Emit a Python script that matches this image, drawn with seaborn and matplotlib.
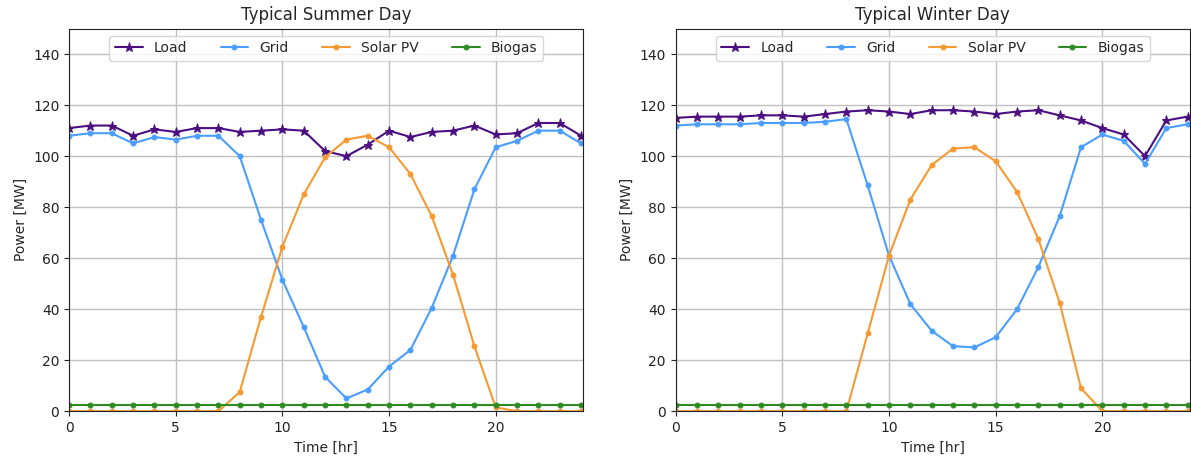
import numpy as np
import pandas as pd
import matplotlib
matplotlib.use("Agg")
import matplotlib.pyplot as plt
import seaborn as sns

hours = list(range(25))

summer_load = [111, 112, 112, 108, 110.5, 109.5, 111, 111, 109.5, 110, 110.5, 110, 102,
               100, 104.5, 110, 107.5, 109.5, 110, 112, 108.5, 109, 113, 113, 108]
summer_grid = [108, 109, 109, 105, 107.5, 106.5, 108, 108, 100, 75, 51.5, 33, 13.5,
               5, 8.5, 17.5, 24, 40.5, 61, 87, 103.5, 106, 110, 110, 105]
summer_solar = [0, 0, 0, 0, 0, 0, 0, 0, 7.5, 37, 64.5, 85, 99.5,
                106.5, 108, 103.5, 93, 76.5, 53.5, 25.5, 1.5, 0, 0, 0, 0]
summer_biogas = [2.6] * 25

winter_load = [115, 115.5, 115.5, 115.5, 116, 116, 115.5, 116.5, 117.5, 118, 117.5, 116.5, 118,
               118, 117.5, 116.5, 117.5, 118, 116, 114, 111, 108.5, 100, 114, 115.5]
winter_grid = [112, 112.5, 112.5, 112.5, 113, 113, 113, 113.5, 114.5, 88.5, 61, 42, 31.5,
               25.5, 25, 29, 40, 56.5, 76.5, 103.5, 108.5, 106, 97, 111, 112.5]
winter_solar = [0, 0, 0, 0, 0, 0, 0, 0, 0, 30.5, 61, 83, 96.5,
                103, 103.5, 98, 86, 67.5, 42.5, 9, 0, 0, 0, 0, 0]
winter_biogas = [2.6] * 25

series_names = ["Load", "Grid", "Solar PV", "Biogas"]
colors = {"Load": "#4b0f82", "Grid": "#4a9eff", "Solar PV": "#f59a32", "Biogas": "#2e8b22"}
markers = {"Load": "*", "Grid": ".", "Solar PV": ".", "Biogas": "."}
msizes = {"Load": 6.5, "Grid": 7, "Solar PV": 7, "Biogas": 7}

sns.set_style("ticks")
plt.rcParams["font.family"] = ["DejaVu Sans"]

fig, axes = plt.subplots(1, 2, figsize=(11.91, 4.62), dpi=100)
fig.subplots_adjust(left=0.058, right=0.999, top=0.938, bottom=0.110, wspace=0.18)

days = [
    ("Typical Summer Day", [summer_load, summer_grid, summer_solar, summer_biogas]),
    ("Typical Winter Day", [winter_load, winter_grid, winter_solar, winter_biogas]),
]

for ax, (title, values) in zip(axes, days):
    for name, vals in zip(series_names, values):
        df = pd.DataFrame({"Time": hours, "Power": vals})
        sns.lineplot(data=df, x="Time", y="Power", ax=ax, color=colors[name],
                     marker=markers[name], markersize=msizes[name],
                     markeredgecolor=colors[name], linewidth=1.5, label=name)
    ax.set_xlim(0, 24.1)
    ax.set_ylim(0, 150)
    ax.set_xticks([0, 5, 10, 15, 20])
    ax.set_yticks([0, 20, 40, 60, 80, 100, 120, 140])
    ax.grid(True, color="#c0c0c0", linewidth=1.0)
    ax.set_axisbelow(True)
    for s in ax.spines.values():
        s.set_color("#222222")
        s.set_linewidth(0.8)
    ax.tick_params(colors="#222222", labelsize=10, length=3.5, width=0.8)
    ax.set_title(title, fontsize=12)
    ax.set_xlabel("Time [hr]", fontsize=10)
    ax.set_ylabel("Power [MW]", fontsize=10)
    ax.legend(loc="upper center", ncol=4, fontsize=10, frameon=True,
              columnspacing=2.4, handlelength=2.0)

fig.savefig("out.png", dpi=100, facecolor="white")
